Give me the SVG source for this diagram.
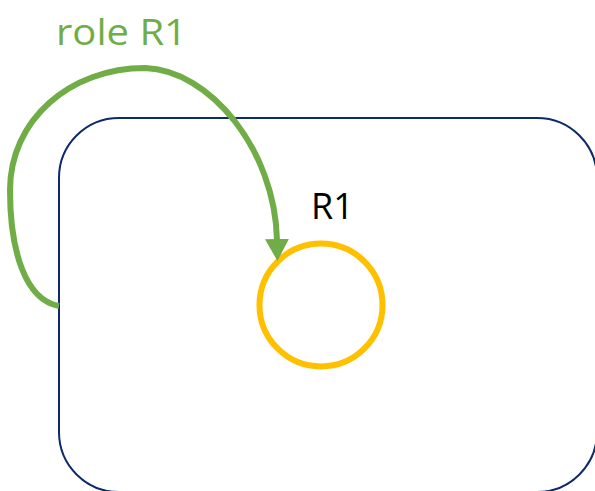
<svg xmlns="http://www.w3.org/2000/svg" width="595" height="491" viewBox="0 0 595 491">
<style>
.lbl{font-family:"Open Sans","Noto Sans","Liberation Sans",sans-serif;font-size:36px}
</style>
<defs>
<marker id="ah" markerUnits="userSpaceOnUse" viewBox="0 0 22 24" refX="1" refY="12" markerWidth="22" markerHeight="24" orient="auto">
<path d="M0,0 L22,12 L0,24 z" fill="#70AD47"/>
</marker>
</defs>
<rect width="595" height="491" fill="#fff"/>
<g id="container">
<rect x="59" y="118" width="538" height="374" rx="60" ry="60" fill="none" stroke="#0E2A6B" stroke-width="2"/>
</g>
<g id="r1">
<circle cx="321" cy="305" r="61.5" fill="none" stroke="#FFC000" stroke-width="6"/>
<text class="lbl" x="311" y="219" fill="#000">R1</text>
</g>
<g id="connectors">
<path d="M59,306 C25,300 10,250 10,190 C10,120 70,68 145,68 C210,70 275,150 277,240" fill="none" stroke="#70AD47" stroke-width="6" marker-end="url(#ah)"/>
<text class="lbl" x="56" y="45" fill="#70AD47" textLength="131" lengthAdjust="spacingAndGlyphs">role R1</text>
</g>
</svg>
